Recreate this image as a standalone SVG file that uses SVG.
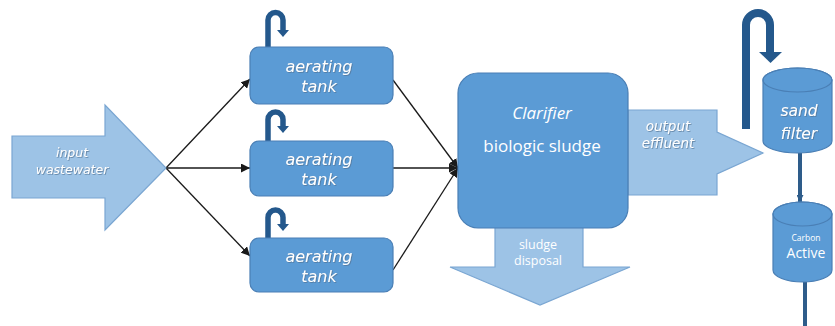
<svg xmlns="http://www.w3.org/2000/svg" width="835" height="326" viewBox="0 0 835 326">
<defs>
<style>
.box{fill:#5b9bd5;stroke:#4a7fb5;stroke-width:1.2}
.arw{fill:#9dc3e6;stroke:#7aa6d2;stroke-width:1.2}
.hook{fill:none;stroke:#24588c;stroke-linecap:butt}
.hh{fill:#24588c}
.ln{stroke:#1a1a1a;stroke-width:1.3;fill:none;marker-end:url(#ah)}
.t{font-family:"Open Sans","DejaVu Sans",sans-serif;fill:#ffffff;text-anchor:middle}
.it{font-family:"DejaVu Sans","Open Sans",sans-serif;font-style:italic}
.sh{filter:url(#ds)}
.pipe{stroke:#2e5c8a;stroke-width:4;fill:none}
</style>
<marker id="ah" viewBox="0 0 10 10" refX="10" refY="5" markerWidth="9" markerHeight="9" markerUnits="userSpaceOnUse" orient="auto">
<path d="M0,0 L10,5 L0,10 Z" fill="#1a1a1a"/>
</marker>
<marker id="ahb" viewBox="0 0 10 10" refX="10" refY="5" markerWidth="7" markerHeight="7" markerUnits="userSpaceOnUse" orient="auto">
<path d="M0,0 L10,5 L0,10 Z" fill="#2e5c8a"/>
</marker>
<filter id="ds" x="-20%" y="-40%" width="140%" height="180%">
<feDropShadow dx="0.8" dy="0.8" stdDeviation="0.6" flood-color="#4f6f90" flood-opacity="0.8"/>
</filter>
</defs>
<rect width="835" height="326" fill="#ffffff"/>

<g id="connectors">
<line class="ln" x1="166" y1="168" x2="250" y2="79"/>
<line class="ln" x1="166" y1="168" x2="250" y2="168"/>
<line class="ln" x1="166" y1="168" x2="250" y2="256"/>
<line class="ln" x1="393" y1="80" x2="458" y2="168"/>
<line class="ln" x1="393" y1="168" x2="458" y2="168"/>
<line class="ln" x1="393" y1="270" x2="458" y2="168"/>
<line class="pipe" x1="800" y1="153" x2="800" y2="202" marker-end="url(#ahb)"/>
<line class="pipe" x1="805" y1="282" x2="805" y2="326"/>
</g>

<g id="input-wastewater">
<polygon class="arw" points="12,136 105,136 105,105 166,168 105,230 105,198 12,198"/>
<text class="t it sh" x="72" y="157" font-size="12.5">input</text>
<text class="t it sh" x="72" y="174" font-size="12.5">wastewater</text>
</g>

<g id="tank1">
<path class="hook" stroke-width="5.5" d="M268,47 V20 A7.5,7.5 0 0 1 283,20 V30"/>
<polygon class="hh" points="277,30 289,30 283,37"/>
<rect class="box" x="250" y="47" width="143" height="57" rx="9"/>
<text class="t it sh" x="319" y="72" font-size="16">aerating</text>
<text class="t it sh" x="319" y="92" font-size="16">tank</text>
</g>

<g id="tank2">
<path class="hook" stroke-width="5.5" d="M268,141 V119.5 A7.5,7.5 0 0 1 283,119.5 V126"/>
<polygon class="hh" points="277,126 289,126 283,133"/>
<rect class="box" x="250" y="141" width="143" height="55" rx="9"/>
<text class="t it sh" x="319" y="165" font-size="16">aerating</text>
<text class="t it sh" x="319" y="185" font-size="16">tank</text>
</g>

<g id="tank3">
<path class="hook" stroke-width="5.5" d="M268,238 V217.5 A7.5,7.5 0 0 1 283,217.5 V224"/>
<polygon class="hh" points="277,224 289,224 283,231"/>
<rect class="box" x="250" y="238" width="143" height="54" rx="9"/>
<text class="t it sh" x="319" y="262" font-size="16">aerating</text>
<text class="t it sh" x="319" y="282" font-size="16">tank</text>
</g>

<g id="output-effluent">
<polygon class="arw" points="628,110 717,110 717,132 763,153 717,174 717,195 628,195"/>
<text class="t it sh" x="668" y="131" font-size="13.5">output</text>
<text class="t it sh" x="668" y="148" font-size="13.5">effluent</text>
</g>

<g id="sludge-disposal">
<polygon class="arw" points="495,226 583,226 583,267 630,267 540,305 450,267 495,267"/>
<text class="t" x="538" y="249" font-size="12.5" fill="#f4f8fc">sludge</text>
<text class="t" x="538" y="265" font-size="12.5" fill="#f4f8fc">disposal</text>
</g>

<g id="clarifier">
<rect class="box" x="458" y="73" width="170" height="155" rx="20"/>
<text class="t" x="542" y="119" font-size="17" font-style="italic" fill="#e6f0fa">Clarifier</text>
<text class="t" x="542" y="152" font-size="17" fill="#e6f0fa">biologic sludge</text>
</g>

<g id="sand-filter">
<path class="hook" stroke-width="8" d="M746,129 V25 A12,12 0 0 1 770,25 V52"/>
<polygon class="hh" points="759,52 782,52 770.5,63"/>
<path class="box" d="M763,80 V141 A34.5,12 0 0 0 832,141 V80 A34.5,12 0 0 0 763,80 Z"/>
<ellipse cx="797.5" cy="80" rx="34.5" ry="12" fill="none" stroke="#4a7fb5" stroke-width="1.2"/>
<text class="t it sh" x="799" y="116" font-size="15.5">sand</text>
<text class="t it sh" x="799" y="139" font-size="15.5">filter</text>
</g>

<g id="carbon-active">
<path class="box" d="M773,214 V270 A29.5,12 0 0 0 832,270 V214 A29.5,12 0 0 0 773,214 Z"/>
<ellipse cx="802.5" cy="214" rx="29.5" ry="12" fill="none" stroke="#4a7fb5" stroke-width="1.2"/>
<text class="t" x="806" y="241" font-size="8.5" fill="#eef4fb">Carbon</text>
<text class="t" x="806" y="258" font-size="14" fill="#eef4fb">Active</text>
</g>
</svg>
